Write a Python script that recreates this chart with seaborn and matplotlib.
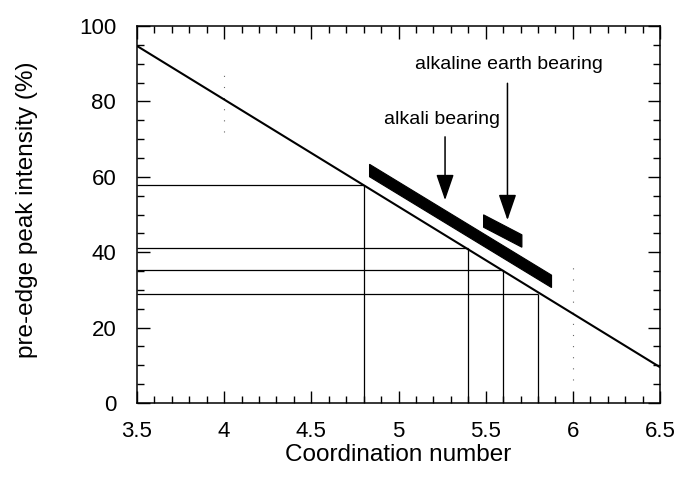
import matplotlib
matplotlib.use("Agg")
import matplotlib.pyplot as plt
import seaborn as sns
import pandas as pd
from matplotlib.ticker import MultipleLocator

# ---- data ----
line_x = [3.5, 6.5]                      # coordination number (calibration line ends)
line_y = [94.7, 9.5]                     # pre-edge peak intensity (%)
drop_x = [4.8, 5.4, 5.6, 5.8]
drop_y = [57.8, 41.0, 35.3, 28.8]        # corresponding intensities
alkali_x = [4.831, 5.875]                # "alkali bearing" band ends
alkali_y = [61.8, 32.4]
earth_x = [5.485, 5.705]                 # "alkaline earth bearing" band ends
earth_y = [48.4, 43.1]
band_height = 3.3                        # vertical band thickness (%)
label_alkali = "alkali bearing"
label_earth = "alkaline earth bearing"
alkali_text_pos = (5.25, 75.2)
alkali_arrow = (5.267, 70.6, 53.8)       # x, start y, tip y
earth_text_pos = (5.635, 89.9)
earth_arrow = (5.625, 84.8, 48.5)
noise_x = [4.0, 6.0]                     # faint dotted scan marks
noise_lo = [72, 6]
noise_hi = [88, 38]

sns.set_theme(style="ticks")
plt.rcParams["font.family"] = ["Liberation Sans", "DejaVu Sans"]
plt.rcParams["text.color"] = "black"
plt.rcParams["axes.labelcolor"] = "black"
plt.rcParams["xtick.color"] = "black"
plt.rcParams["ytick.color"] = "black"

fig = plt.figure(figsize=(6.79, 4.83), dpi=100)
ax = fig.add_axes([137 / 679, 80 / 483, 523 / 679, 377 / 483])

df = pd.DataFrame({"cn": line_x, "pi": line_y})
sns.lineplot(data=df, x="cn", y="pi", ax=ax, color="black", lw=1.5)

ax.hlines(drop_y, line_x[0], drop_x, color="black", lw=0.9)
ax.vlines(drop_x, 0, drop_y, color="black", lw=0.9)

for bx, by in [(alkali_x, alkali_y), (earth_x, earth_y)]:
    lo = [v - band_height / 2 for v in by]
    hi = [v + band_height / 2 for v in by]
    ax.fill_between(bx, lo, hi, color="black", lw=0.8, joinstyle="bevel")

ax.vlines(noise_x, noise_lo, noise_hi, color="black", lw=0.8,
          linestyles=(0, (1, 9)), alpha=0.6)

akw = dict(arrowstyle="-|>,head_length=1.6,head_width=0.55", color="black",
           lw=1.1, shrinkA=0, shrinkB=0, mutation_scale=10)
ax.annotate("", xy=(alkali_arrow[0], alkali_arrow[2]),
            xytext=(alkali_arrow[0], alkali_arrow[1]), arrowprops=akw)
ax.annotate("", xy=(earth_arrow[0], earth_arrow[2]),
            xytext=(earth_arrow[0], earth_arrow[1]), arrowprops=akw)
ax.text(*alkali_text_pos, label_alkali, ha="center", va="center", fontsize=14)
ax.text(*earth_text_pos, label_earth, ha="center", va="center", fontsize=14)

ax.set_xlim(3.5, 6.5)
ax.set_ylim(0, 100)
ax.xaxis.set_major_locator(MultipleLocator(0.5))
ax.xaxis.set_minor_locator(MultipleLocator(0.1))
ax.yaxis.set_major_locator(MultipleLocator(20))
ax.yaxis.set_minor_locator(MultipleLocator(5))
ax.set_xticks([3.5, 4, 4.5, 5, 5.5, 6, 6.5])
ax.set_xticklabels(["3.5", "4", "4.5", "5", "5.5", "6", "6.5"])
ax.tick_params(which="both", direction="in", top=True, right=True,
               color="black", labelcolor="black", width=1.0)
ax.tick_params(which="major", length=9, labelsize=16)
ax.tick_params(which="minor", length=5)
ax.tick_params(axis="x", which="major", pad=13)
ax.tick_params(axis="y", which="major", pad=15)
for s in ax.spines.values():
    s.set_color("black")
    s.set_linewidth(1.1)

ax.set_xlabel("Coordination number", fontsize=17.5, color="black")
ax.set_ylabel("pre-edge peak intensity (%)", fontsize=17.5, color="black")
ax.xaxis.set_label_coords(0.5, -0.138)
ax.xaxis.label.set_va("center")
ax.yaxis.set_label_coords(-0.21, 0.513)
ax.yaxis.label.set_va("center")

fig.savefig("out.png", dpi=100)
